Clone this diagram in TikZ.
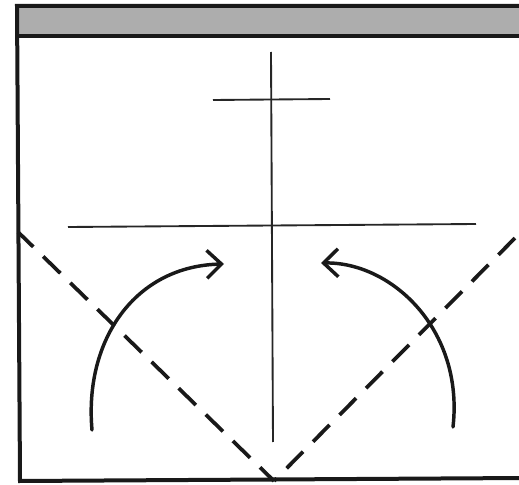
\documentclass[tikz,border=0pt]{standalone}
\usepackage{tikz}
\usetikzlibrary{arrows.meta}

\begin{document}
\begin{tikzpicture}[
        x=0.75pt, y=-0.75pt,
        frm/.style={line width=3pt, black!90},
        thn/.style={line width=1.4pt, black!85},
        fold/.style={line width=2.8pt, black!90},
        swing/.style={line width=2.6pt, black!90, line cap=round, -{Straight Barb[length=11pt, width=21pt, line width=2.6pt]}},
    ]
        \useasboundingbox (0,0) rectangle (519,485);
        \coordinate (TL) at (17,6);
        \coordinate (TR) at (525,6);
        \coordinate (HL) at (17,36);
        \coordinate (HR) at (525,36);
        \coordinate (BL) at (20,481);
        \coordinate (BR) at (525,478);
        \coordinate (A) at (271,52);
        \coordinate (B) at (273,442);
        \coordinate (C) at (213,100);
        \coordinate (D) at (330,99);
        \coordinate (E) at (68,227);
        \coordinate (F) at (476,224);
        \coordinate (G) at (18,232);
        \coordinate (H) at (274,481);
        \coordinate (J) at (522,231);
        \coordinate (K) at (92,430);
        \coordinate (L) at (224,264);
        \coordinate (M) at (453,427);
        \coordinate (N) at (321,263);
        \fill[black!32] (TL) rectangle (HR);
        \draw[frm] (TR) -- (TL) -- (BL) -- (BR);
        \draw[frm] (HL) -- (HR);
        \draw[thn] (A) -- (B);
        \draw[thn] (C) -- (D);
        \draw[thn] (E) -- (F);
        \draw[fold, dash pattern=on 18pt off 10.35pt, dash phase=2pt] (G) -- (H);
        \draw[fold, dash pattern=on 17.6pt off 10.6pt, dash phase=20.7pt] (J) -- (H);
        \draw[swing] (K) .. controls (84,340) and (135,266) .. (L);
        \draw[swing] (M) .. controls (464,330) and (392,262) .. (N);
    \end{tikzpicture}
\end{document}
